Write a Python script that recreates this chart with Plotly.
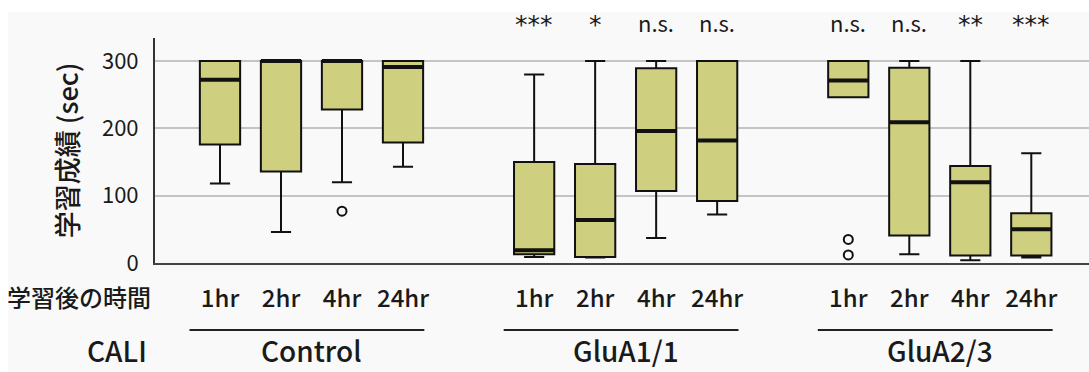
import plotly.graph_objects as go

# ---- data ----
groups = ["Control", "GluA1/1", "GluA2/3"]
hours = ["1hr", "2hr", "4hr", "24hr"]
significance = ["", "", "", "", "***", "*", "n.s.", "n.s.", "n.s.", "n.s.", "**", "***"]

q1 = [176, 136, 228, 179, 13, 9, 107, 92, 246, 41, 11, 11]
median = [272, 300, 300, 291, 19, 64, 196, 182, 271, 209, 120, 50]
q3 = [300, 300, 300, 300, 150, 147, 289, 300, 300, 290, 144, 74]
lower_whisker = [118, 46, 120, 143, 9, 8, 37, 72, 246, 13, 4, 8]
upper_whisker = [300, 300, 300, 300, 280, 300, 300, 300, 300, 300, 300, 163]
outlier_box = [2, 8, 8]          # index of box each outlier belongs to
outlier_val = [77, 35, 12]

y_ticks = [0, 100, 200, 300]

# ---- layout helpers ----
GROUP_STEP = 5.15
BOX_W = 0.66
pos = [1 + g * GROUP_STEP + h for g in range(len(groups)) for h in range(len(hours))]
tick_text = [h for g in groups for h in hours]

FONT = "Noto Sans CJK JP"
STAR_FONT = "DejaVu Sans"
FILL = "#cfcf80"
BG = "#f9f9f9"
TXT = "#1a1a1a"

fig = go.Figure()

fig.add_trace(go.Box(
    x=pos, q1=q1, median=median, q3=q3,
    lowerfence=lower_whisker, upperfence=upper_whisker,
    width=BOX_W, whiskerwidth=0.5,
    fillcolor=FILL, line=dict(color="#111111", width=2),
    boxpoints=False, hoverinfo="skip", showlegend=False,
))

# thicker median lines
mx, my = [], []
for p, m in zip(pos, median):
    mx += [p - BOX_W / 2, p + BOX_W / 2, None]
    my += [m, m, None]
fig.add_trace(go.Scatter(x=mx, y=my, mode="lines",
                         line=dict(color="#111111", width=4),
                         hoverinfo="skip", showlegend=False))

# outliers
fig.add_trace(go.Scatter(
    x=[pos[i] for i in outlier_box], y=outlier_val, mode="markers",
    marker=dict(symbol="circle-open", size=9, color="#111111", line=dict(width=2)),
    hoverinfo="skip", showlegend=False))

annotations = []
# significance
for p, s in zip(pos, significance):
    if s:
        if s.startswith("*"):
            f = dict(family=STAR_FONT, size=25, color=TXT)
            yy = 1.058
        else:
            f = dict(family=FONT, size=22, color=TXT)
            yy = 1.072
        annotations.append(dict(x=p, y=yy, xref="x", yref="paper", text=s,
                                xanchor="center", yanchor="middle",
                                showarrow=False, font=f))
# left labels
annotations.append(dict(x=-0.081, y=-0.151, xref="paper", yref="paper", text="学習後の時間",
                        xanchor="center", yanchor="middle",
                        showarrow=False, font=dict(family=FONT, size=24, color=TXT, weight=500)))
annotations.append(dict(x=-0.041, y=-0.387, xref="paper", yref="paper", text="CALI",
                        xanchor="center", yanchor="middle",
                        showarrow=False, font=dict(family=FONT, size=28, color=TXT, weight=500)))

shapes = []
for g, name in enumerate(groups):
    gp = pos[g * 4:(g + 1) * 4]
    annotations.append(dict(x=sum(gp) / 4, y=-0.387, xref="x", yref="paper", text=name,
                            xanchor="center", yanchor="middle",
                            showarrow=False, font=dict(family=FONT, size=28, color=TXT, weight=500)))
    shapes.append(dict(type="line", xref="x", yref="paper", x0=gp[0] - 0.5, x1=gp[-1] + 0.35,
                       y0=-0.298, y1=-0.298, line=dict(color="#222", width=2)))

# white strips at top and left of the image
shapes.append(dict(type="rect", xref="paper", yref="paper", x0=-0.2, x1=1.1, y0=1.1156, y1=1.2,
                   fillcolor="white", line=dict(width=0), layer="below"))
shapes.append(dict(type="rect", xref="paper", yref="paper", x0=-0.2, x1=-0.1574, y0=-0.6, y1=1.2,
                   fillcolor="white", line=dict(width=0), layer="below"))

fig.update_layout(
    width=1089, height=372,
    margin=dict(l=155, r=0, t=38, b=109),
    paper_bgcolor=BG, plot_bgcolor=BG,
    font=dict(family=FONT, color=TXT),
    annotations=annotations, shapes=shapes,
    showlegend=False,
)
fig.update_xaxes(
    range=[1 - 65 / 61, 1 + 869 / 61],
    tickvals=pos, ticktext=tick_text, ticks="",
    tickfont=dict(family=FONT, size=24, color=TXT, weight=500),
    ticklabelstandoff=13,
    showgrid=False, zeroline=False,
    showline=True, linecolor="#444", linewidth=2,
)
fig.update_yaxes(
    range=[0, 334], tickvals=y_ticks,
    tickfont=dict(family=FONT, size=22, color=TXT),
    ticks="", ticklabelstandoff=10,
    showgrid=True, gridcolor="#c4c4c4", gridwidth=2,
    zeroline=False, showline=True, linecolor="#333", linewidth=2,
    title=dict(text="学習成績 (sec)", font=dict(family=FONT, size=27, color=TXT, weight=500), standoff=16),
)

fig.write_html("out.html", config={"displayModeBar": False},
               post_script="document.body.style.margin='0';document.body.style.padding='0';")
